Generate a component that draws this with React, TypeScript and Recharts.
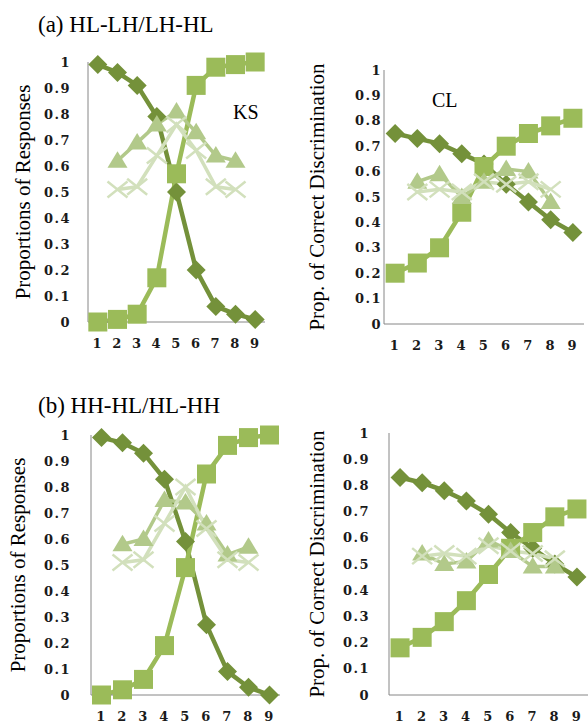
import { LineChart, Line, XAxis, YAxis } from 'recharts'

const categories = ['1', '2', '3', '4', '5', '6', '7', '8', '9']
const yTicks = [0, 0.1, 0.2, 0.3, 0.4, 0.5, 0.6, 0.7, 0.8, 0.9, 1]

// (a) HL-LH/LH-HL, KS
const aKsDiamond = [0.99, 0.96, 0.91, 0.79, 0.5, 0.2, 0.06, 0.03, 0.01]
const aKsSquare = [0.0, 0.01, 0.03, 0.17, 0.57, 0.91, 0.98, 0.99, 1.0]
const aKsTriangle = [null, 0.62, 0.69, 0.76, 0.81, 0.73, 0.64, 0.62, null]
const aKsCross = [null, 0.51, 0.52, 0.64, 0.76, 0.66, 0.52, 0.51, null]

// (a) HL-LH/LH-HL, CL
const aClDiamond = [0.75, 0.73, 0.71, 0.67, 0.63, 0.55, 0.48, 0.41, 0.36]
const aClSquare = [0.2, 0.24, 0.3, 0.44, 0.62, 0.7, 0.75, 0.78, 0.81]
const aClTriangle = [null, 0.56, 0.59, 0.5, 0.56, 0.61, 0.6, 0.48, null]
const aClCross = [null, 0.52, 0.53, 0.52, 0.56, 0.55, 0.56, 0.53, null]

// (b) HH-HL/HL-HH, KS
const bKsDiamond = [0.99, 0.97, 0.93, 0.83, 0.59, 0.27, 0.09, 0.03, 0.0]
const bKsSquare = [0.0, 0.02, 0.06, 0.19, 0.49, 0.85, 0.96, 0.99, 1.0]
const bKsTriangle = [null, 0.58, 0.6, 0.75, 0.74, 0.66, 0.54, 0.57, null]
const bKsCross = [null, 0.51, 0.52, 0.66, 0.8, 0.64, 0.52, 0.51, null]

// (b) HH-HL/HL-HH, CL
const bClDiamond = [0.83, 0.81, 0.78, 0.74, 0.69, 0.62, 0.56, 0.5, 0.45]
const bClSquare = [0.18, 0.22, 0.28, 0.36, 0.46, 0.56, 0.62, 0.68, 0.71]
const bClTriangle = [null, 0.54, 0.5, 0.51, 0.59, 0.55, 0.49, 0.49, null]
const bClCross = [null, 0.53, 0.54, 0.53, 0.57, 0.55, 0.54, 0.52, null]

const DIAMOND = '#74913A'
const SQUARE = '#9BBB59'
const TRIANGLE = '#B2C98A'
const CROSS = '#D2E0BC'
const AXIS = '#868686'
const SERIF = '"Liberation Serif", "Times New Roman", serif'

const buildRows = (d: number[], s: number[], t: (number | null)[], c: (number | null)[]) =>
  categories.map((x, i) => ({ x, diamond: d[i], square: s[i], triangle: t[i], cross: c[i] }))

const missing = (cx: any, cy: any) => cx == null || cy == null || Number.isNaN(cx) || Number.isNaN(cy)

const renderDiamond = (props: any) => {
  const { cx, cy, index } = props
  if (missing(cx, cy)) return <g key={`dia-${index}`} />
  const r = 9.5
  return (
    <polygon
      key={`dia-${index}`}
      points={`${cx},${cy - r} ${cx + r},${cy} ${cx},${cy + r} ${cx - r},${cy}`}
      fill={DIAMOND}
    />
  )
}

const renderSquare = (props: any) => {
  const { cx, cy, index } = props
  if (missing(cx, cy)) return <g key={`sq-${index}`} />
  return <rect key={`sq-${index}`} x={cx - 9.5} y={cy - 9.5} width={19} height={19} fill={SQUARE} />
}

const renderTriangle = (props: any) => {
  const { cx, cy, index } = props
  if (missing(cx, cy)) return <g key={`tri-${index}`} />
  return (
    <polygon
      key={`tri-${index}`}
      points={`${cx},${cy - 9.5} ${cx + 10},${cy + 7} ${cx - 10},${cy + 7}`}
      fill={TRIANGLE}
    />
  )
}

const renderCross = (props: any) => {
  const { cx, cy, index } = props
  if (missing(cx, cy)) return <g key={`x-${index}`} />
  return (
    <g key={`x-${index}`} stroke={CROSS} strokeWidth={2.5}>
      <line x1={cx - 10} y1={cy - 8} x2={cx + 10} y2={cy + 8} />
      <line x1={cx - 10} y1={cy + 8} x2={cx + 10} y2={cy - 8} />
    </g>
  )
}

const tickStyle = {
  fontSize: 13,
  fontFamily: '"DejaVu Serif", serif',
  fontWeight: 'bold',
  fill: '#1a1a1a',
  letterSpacing: 1.5,
}

interface PanelProps {
  left: number
  top: number
  width: number
  height: number
  plotTop: number
  yAxisWidth: number
  right: number
  xAxisHeight: number
  yTickGap: number
  xTickGap: number
  yLabel: string
  yLabelOffset: number
  rows: ReturnType<typeof buildRows>
}

function Panel(p: PanelProps) {
  const plotWidth = p.width - p.yAxisWidth - p.right
  const pad = plotWidth / 18
  return (
    <div style={{ position: 'absolute', left: p.left, top: p.top }}>
      <LineChart
        width={p.width}
        height={p.height}
        data={p.rows}
        margin={{ top: p.plotTop, right: p.right, bottom: 0, left: 0 }}
      >
        <XAxis
          dataKey="x"
          height={p.xAxisHeight}
          axisLine={{ stroke: AXIS }}
          tickLine={false}
          tickSize={0}
          tickMargin={p.xTickGap}
          interval={0}
          padding={{ left: pad, right: pad }}
          tick={tickStyle}
        />
        <YAxis
          domain={[0, 1]}
          ticks={yTicks}
          width={p.yAxisWidth}
          axisLine={{ stroke: AXIS }}
          tickLine={false}
          tickSize={0}
          tickMargin={p.yTickGap}
          interval={0}
          tick={tickStyle}
          tickFormatter={(v) => String(v)}
          label={{
            value: p.yLabel,
            angle: -90,
            position: 'insideLeft',
            offset: p.yLabelOffset,
            style: { textAnchor: 'middle', fontSize: 21, fontFamily: SERIF, fill: '#000' },
          }}
        />
        <Line
          dataKey="diamond"
          stroke={DIAMOND}
          strokeWidth={4.5}
          dot={renderDiamond}
          activeDot={false}
          isAnimationActive={false}
        />
        <Line
          dataKey="square"
          stroke={SQUARE}
          strokeWidth={4.5}
          dot={renderSquare}
          activeDot={false}
          isAnimationActive={false}
        />
        <Line
          dataKey="triangle"
          stroke={TRIANGLE}
          strokeWidth={3.5}
          dot={renderTriangle}
          activeDot={false}
          connectNulls={false}
          isAnimationActive={false}
        />
        <Line
          dataKey="cross"
          stroke={CROSS}
          strokeWidth={3.5}
          dot={renderCross}
          activeDot={false}
          connectNulls={false}
          isAnimationActive={false}
        />
      </LineChart>
    </div>
  )
}

const textStyle = (left: number, top: number, size: number) => ({
  position: 'absolute' as const,
  left,
  top,
  fontSize: size,
  lineHeight: 1,
  fontFamily: SERIF,
  color: '#000',
  whiteSpace: 'nowrap' as const,
})

export default function App() {
  return (
    <div style={{ position: 'absolute', left: 0, top: 0, width: 588, height: 725, background: '#fff', overflow: 'hidden' }}>
      <Panel
        left={0} top={0} width={275} height={360} plotTop={62} yAxisWidth={88} right={10}
        xAxisHeight={38} yTickGap={17} xTickGap={17}
        yLabel="Proportions of Responses" yLabelOffset={23}
        rows={buildRows(aKsDiamond, aKsSquare, aKsTriangle, aKsCross)}
      />
      <Panel
        left={290} top={0} width={298} height={360} plotTop={70} yAxisWidth={94} right={4}
        xAxisHeight={36} yTickGap={2} xTickGap={17}
        yLabel="Prop. of Correct Discrimination" yLabelOffset={27}
        rows={buildRows(aClDiamond, aClSquare, aClTriangle, aClCross)}
      />
      <Panel
        left={0} top={380} width={290} height={345} plotTop={55} yAxisWidth={91} right={10}
        xAxisHeight={30} yTickGap={20} xTickGap={17}
        yLabel="Proportions of Responses" yLabelOffset={18}
        rows={buildRows(bKsDiamond, bKsSquare, bKsTriangle, bKsCross)}
      />
      <Panel
        left={290} top={380} width={298} height={345} plotTop={53} yAxisWidth={99} right={0}
        xAxisHeight={30} yTickGap={19} xTickGap={17}
        yLabel="Prop. of Correct Discrimination" yLabelOffset={27}
        rows={buildRows(bClDiamond, bClSquare, bClTriangle, bClCross)}
      />
      <div style={textStyle(38, 13, 23)}>(a) HL-LH/LH-HL</div>
      <div style={textStyle(38, 394, 23)}>(b) HH-HL/HL-HH</div>
      <div style={textStyle(233, 102, 20)}>KS</div>
      <div style={textStyle(432, 90, 20)}>CL</div>
    </div>
  )
}
